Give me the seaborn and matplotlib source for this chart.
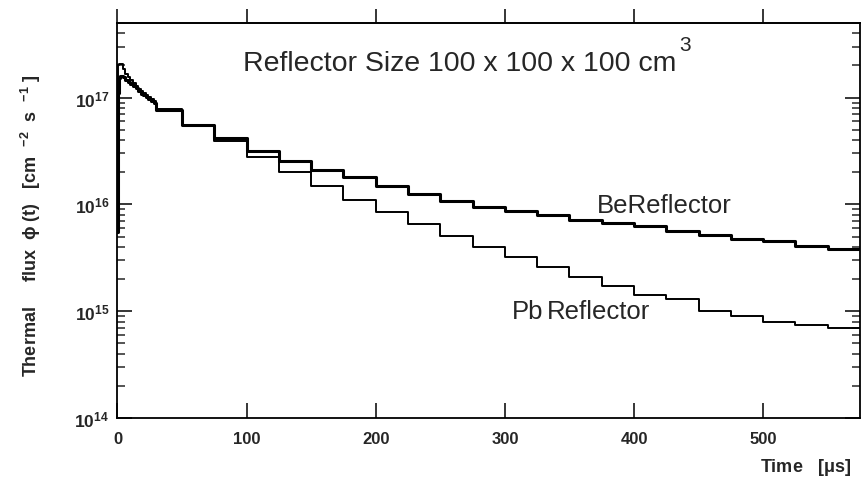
import matplotlib
matplotlib.use("Agg")
import matplotlib.pyplot as plt
import seaborn as sns
import pandas as pd
from matplotlib.ticker import FixedLocator, LogLocator, LogFormatterMathtext, NullFormatter

# ---- data ----
time_edges = [0, 0.5, 1, 2, 4, 6, 8, 10, 12, 14, 16, 18, 20, 22, 24, 26, 28, 30,
              50, 75, 100, 125, 150, 175, 200, 225, 250, 275, 300, 325, 350,
              375, 400, 425, 450, 475, 500, 525, 550, 575]

be_flux = [5.5e15, 1.1e17, 1.52e17, 1.61e17, 1.55e17, 1.46e17, 1.40e17, 1.35e17,
           1.28e17, 1.22e17, 1.15e17, 1.09e17, 1.05e17, 1.01e17, 0.97e17, 0.93e17,
           0.90e17,
           7.66e16, 5.55e16, 4.16e16, 3.19e16, 2.55e16, 2.12e16, 1.80e16, 1.48e16,
           1.25e16, 1.08e16, 9.47e15, 8.74e15, 7.96e15, 7.20e15, 6.75e15, 6.22e15,
           5.68e15, 5.18e15, 4.72e15, 4.50e15, 4.11e15, 3.83e15]

pb_flux = [7.5e15, 2.0e17, 2.07e17, 2.07e17, 1.85e17, 1.67e17, 1.55e17, 1.46e17,
           1.37e17, 1.29e17, 1.21e17, 1.15e17, 1.10e17, 1.05e17, 1.01e17, 0.97e17,
           0.94e17,
           7.91e16, 5.55e16, 3.95e16, 2.80e16, 2.00e16, 1.48e16, 1.11e16, 8.45e15,
           6.52e15, 5.10e15, 3.97e15, 3.20e15, 2.61e15, 2.08e15, 1.73e15, 1.42e15,
           1.30e15, 1.01e15, 9.08e14, 7.88e14, 7.48e14, 6.97e14]

x_ticks = [0, 100, 200, 300, 400, 500]
y_ticks = [1e14, 1e15, 1e16, 1e17]

title_text = "Reflector Size 100 x 100 x 100 cm"
be_label = "BeReflector"
pb_label_a = "Pb"
pb_label_b = "Reflector"

# ---- style ----
sns.set_style("ticks")
plt.rcParams["font.family"] = ["Liberation Sans", "DejaVu Sans"]
plt.rcParams["mathtext.fontset"] = "custom"
plt.rcParams["mathtext.rm"] = "Liberation Sans:bold"
plt.rcParams["mathtext.bf"] = "Liberation Sans:bold"
plt.rcParams["mathtext.it"] = "Liberation Sans:bold"
plt.rcParams["mathtext.default"] = "regular"

W, H = 862, 485
fig = plt.figure(figsize=(W / 100, H / 100), dpi=100)
left, right, top, bottom = 117.5, 860, 24, 419
ax = fig.add_axes([left / W, 1 - bottom / H, (right - left) / W, (bottom - top) / H])

def step_frame(values, name):
    return pd.DataFrame({"t": time_edges, "flux": list(values) + [values[-1]], "s": name})

df_be = step_frame(be_flux, "Be")
df_pb = step_frame(pb_flux, "Pb")

sns.lineplot(data=df_pb, x="t", y="flux", estimator=None, sort=False,
             drawstyle="steps-post", color="black", lw=1.4, legend=False, ax=ax)
sns.lineplot(data=df_be, x="t", y="flux", estimator=None, sort=False,
             drawstyle="steps-post", color="black", lw=2.2, legend=False, ax=ax)

ax.set_yscale("log")
ax.set_xlim(0, 575)
ax.set_ylim(1e14, 5.0e17)

for sp in ax.spines.values():
    sp.set_linewidth(1.3)
    sp.set_color("black")

ax.xaxis.set_major_locator(FixedLocator(x_ticks))
ax.set_xticklabels([str(v) for v in x_ticks], fontweight="bold", fontsize=12)
ax.tick_params(axis="x", which="major", direction="in", length=11, width=1.3,
               bottom=True, top=False, pad=9)
ax.tick_params(axis="x", which="minor", bottom=False, top=False)

ax.yaxis.set_major_locator(FixedLocator(y_ticks))
ax.yaxis.set_major_formatter(LogFormatterMathtext())
ax.yaxis.set_minor_locator(LogLocator(base=10, subs=[2, 3, 4, 5, 6, 7, 8, 9]))
ax.yaxis.set_minor_formatter(NullFormatter())
ax.tick_params(axis="y", which="major", direction="in", length=11, width=1.3,
               left=True, right=True, labelsize=12.5, pad=6)
ax.tick_params(axis="y", which="minor", direction="in", length=6, width=1.1,
               left=True, right=True)
for lbl in ax.get_yticklabels():
    lbl.set_fontweight("bold")

secax = ax.secondary_xaxis("top")
secax.xaxis.set_major_locator(FixedLocator(x_ticks))
secax.tick_params(axis="x", direction="out", length=10, width=1.3, labeltop=False)
secax.spines["top"].set_linewidth(1.3)

ax.set_xlabel("")
ax.set_ylabel(r"Thermal     flux  $\phi$ (t)   [cm  $^{-2}$  s  $^{-1}$ ]",
              fontweight="bold", fontsize=13)
ax.yaxis.set_label_coords(-0.100, 0.49)

fig.text(851 / W, 1 - 472 / H, r"Time   [$\mu$s]", fontweight="bold",
         fontsize=13, ha="right", va="baseline")

fig.text(243 / W, 1 - 71 / H, title_text, fontsize=20.5, ha="left", va="baseline")
fig.text(679 / W, 1 - 51 / H, "3", fontsize=15, ha="left", va="baseline")
fig.text(597 / W, 1 - 213.3 / H, be_label, fontsize=18.5, ha="left", va="baseline")
fig.text(511.7 / W, 1 - 319.3 / H, pb_label_a, fontsize=18.5, ha="left", va="baseline")
fig.text(547 / W, 1 - 319.3 / H, pb_label_b, fontsize=18.5, ha="left", va="baseline")

fig.savefig("out.png", dpi=100)
